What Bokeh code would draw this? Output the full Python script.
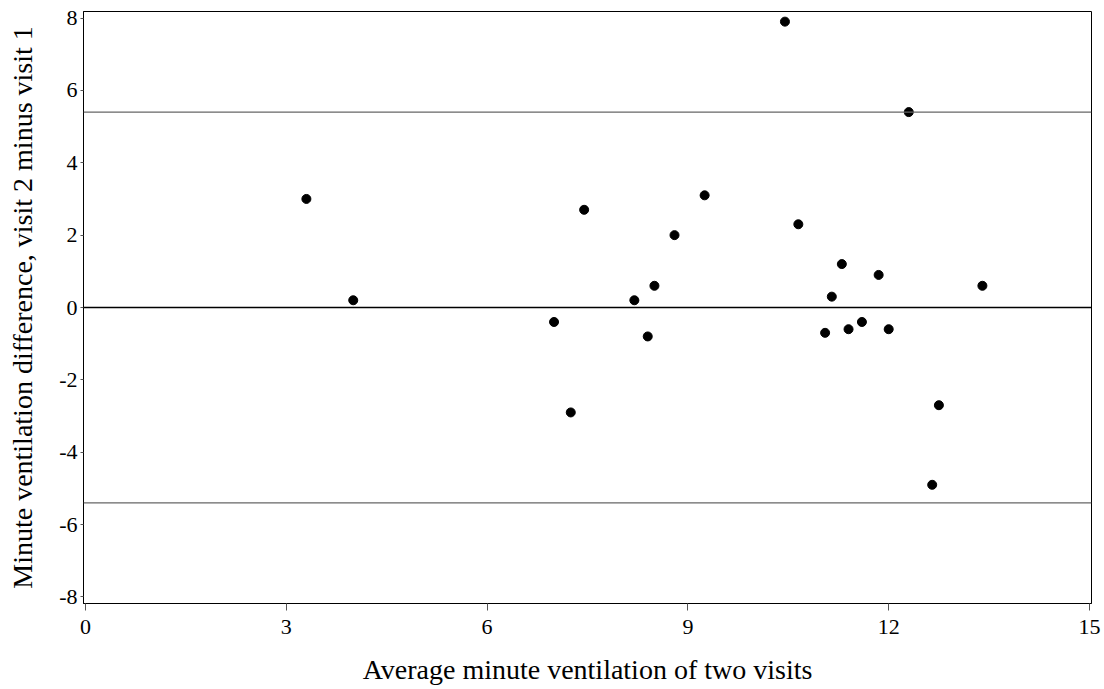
from bokeh.plotting import figure
from bokeh.models import Span, FixedTicker, Range1d
from bokeh.embed import file_html
from bokeh.resources import INLINE

# Average minute ventilation of two visits (x) and difference visit2 - visit1 (y)
avg_vent = [3.3, 4.0, 7.0, 7.25, 7.45, 8.2, 8.4, 8.5, 8.8, 9.25, 10.45, 10.65,
            11.05, 11.15, 11.3, 11.4, 11.6, 11.85, 12.0, 12.3, 12.65, 12.75, 13.4]
diff_vent = [3.0, 0.2, -0.4, -2.9, 2.7, 0.2, -0.8, 0.6, 2.0, 3.1, 7.9, 2.3,
             -0.7, 0.3, 1.2, -0.6, -0.4, 0.9, -0.6, 5.4, -4.9, -2.7, 0.6]

mean_diff = 0.0
upper_loa = 5.4
lower_loa = -5.4

x_ticks = [0, 3, 6, 9, 12, 15]
y_ticks = [-8, -6, -4, -2, 0, 2, 4, 6, 8]
y_tick_labels = ["-8", "-6", "-4", "-2", "0", "2", "4", "6", "8"]

FONT = "Liberation Serif"

p = figure(width=1104, height=689, output_backend="svg", toolbar_location=None,
           x_range=Range1d(-0.03, 15.03), y_range=Range1d(-8.18, 8.18),
           min_border_left=83, min_border_right=13, min_border_top=11,
           min_border_bottom=86, background_fill_color="white",
           border_fill_color="white")

p.outline_line_color = "black"
p.outline_line_width = 1
p.grid.visible = False

for val, col in [(upper_loa, "#666666"), (mean_diff, "black"), (lower_loa, "#666666")]:
    p.add_layout(Span(location=val, dimension="width", line_color=col, line_width=1.3))

p.scatter(avg_vent, diff_vent, size=9, color="black", marker="circle")

p.xaxis.ticker = FixedTicker(ticks=x_ticks)
p.yaxis.ticker = FixedTicker(ticks=y_ticks)
p.yaxis.major_label_overrides = {t: s for t, s in zip(y_ticks, y_tick_labels)}
p.xaxis.minor_tick_line_color = None
p.yaxis.minor_tick_line_color = None
p.xaxis.major_tick_out = 7
p.xaxis.major_tick_in = 0
p.yaxis.major_tick_out = 3
p.yaxis.major_tick_in = 0
p.xaxis.major_tick_line_color = "#555555"
p.yaxis.major_tick_line_color = "#555555"
p.axis.axis_line_color = "black"

p.xaxis.axis_label = "Average minute ventilation of two visits"
p.yaxis.axis_label = "Minute ventilation difference, visit 2 minus visit 1"
for ax in (p.xaxis[0], p.yaxis[0]):
    ax.major_label_text_font = FONT
    ax.major_label_text_font_size = "22px"
    ax.major_label_text_color = "black"
    ax.axis_label_text_font = FONT
    ax.axis_label_text_font_size = "28px"
    ax.axis_label_text_font_style = "normal"
    ax.axis_label_text_color = "black"

p.xaxis.major_label_standoff = 9
p.yaxis.major_label_standoff = 3
p.xaxis.axis_label_standoff = 17
p.yaxis.axis_label_standoff = 18

open("out.html", "w").write(file_html(p, INLINE))
